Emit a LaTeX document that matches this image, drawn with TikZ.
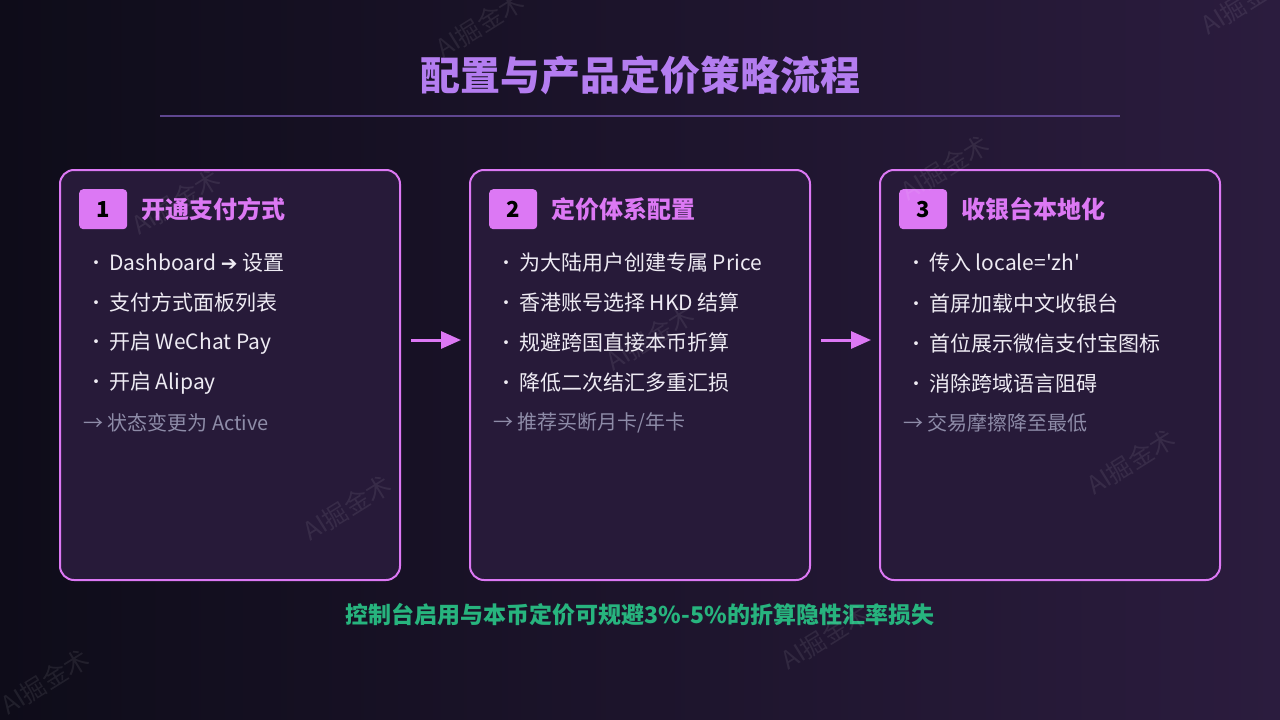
\documentclass[tikz,border=0pt]{standalone}
\usepackage{fontspec}
\setmainfont{Noto Sans CJK SC}[Ligatures=TeXOff]
\newfontfamily\symfont{DejaVu Sans}
\usetikzlibrary{arrows.meta,positioning}

\definecolor{bgleft}{HTML}{0E0C19}
\definecolor{bgright}{HTML}{2B1C3E}
\definecolor{cardfill}{HTML}{271A39}
\definecolor{accent}{HTML}{DC78F4}
\definecolor{titlecol}{HTML}{B47DF0}
\definecolor{rulecol}{HTML}{5F4690}
\definecolor{itemcol}{HTML}{EEEBF3}
\definecolor{notecol}{HTML}{8E8CA8}
\definecolor{keycol}{HTML}{27B47E}

\newcommand{\px}[1]{\fontsize{#1}{#1}\selectfont}
\newcommand{\dotitem}{\makebox[22pt][l]{\raisebox{1pt}{\px{18}•}}}

\begin{document}
\begin{tikzpicture}[
    x=1pt, y=-1pt,
    card/.style={draw=accent, line width=2pt, rounded corners=14pt, fill=cardfill, minimum width=340pt, minimum height=410pt, inner sep=0pt},
    badge/.style={fill=accent, rounded corners=4pt, minimum width=48pt, minimum height=40pt, inner sep=0pt, text=black, font=\px{22}\bfseries},
    head/.style={anchor=west, inner sep=0pt, text=accent, font=\px{24}\bfseries},
    item/.style={anchor=west, inner sep=0pt, text=itemcol, font=\px{21}},
    note/.style={anchor=west, inner sep=0pt, text=notecol, font=\px{20}},
    flow/.style={-{Triangle[length=20pt, width=17pt]}, draw=accent, line width=3pt, shorten <=10pt, shorten >=8pt},
    wmark/.style={text=white, opacity=0.08, rotate=32, font=\px{25}}
]
\useasboundingbox (0,0) rectangle (1280,720);
\shade[left color=bgleft, right color=bgright] (0,0) rectangle (1280,720);

% title
\node[text=titlecol, font=\px{40}\bfseries] (title) at (640,75) {配置与产品定价策略流程};
\coordinate (ruleL) at (160,116);
\coordinate (ruleR) at (1120,116);
\draw[rulecol, line width=2pt] (ruleL) -- (ruleR);

% cards
\node[card] (b1) at (230,375) {};
\node[card] (b2) at (640,375) {};
\node[card] (b3) at (1050,375) {};

% step 1
\node[badge, below right=20pt and 20pt of b1.north west] (n1) {1};
\node[head, right=14pt of n1] (h1) {开通支付方式};
\node[item] (i11) at ([shift={(28,94)}]b1.north west) {\dotitem Dashboard {\symfont\px{20}➔} 设置};
\node[item] (i12) at ([shift={(28,134)}]b1.north west) {\dotitem 支付方式面板列表};
\node[item] (i13) at ([shift={(28,174)}]b1.north west) {\dotitem 开启 WeChat Pay};
\node[item] (i14) at ([shift={(28,214)}]b1.north west) {\dotitem 开启 Alipay};
\node[note] (o1) at ([shift={(24,254)}]b1.north west) {→ 状态变更为 Active};

% step 2
\node[badge, below right=20pt and 20pt of b2.north west] (n2) {2};
\node[head, right=14pt of n2] (h2) {定价体系配置};
\node[item] (i21) at ([shift={(28,94)}]b2.north west) {\dotitem 为大陆用户创建专属 Price};
\node[item] (i22) at ([shift={(28,134)}]b2.north west) {\dotitem 香港账号选择 HKD 结算};
\node[item] (i23) at ([shift={(28,174)}]b2.north west) {\dotitem 规避跨国直接本币折算};
\node[item] (i24) at ([shift={(28,214)}]b2.north west) {\dotitem 降低二次结汇多重汇损};
\node[note] (o2) at ([shift={(24,254)}]b2.north west) {→ 推荐买断月卡/年卡};

% step 3
\node[badge, below right=20pt and 20pt of b3.north west] (n3) {3};
\node[head, right=14pt of n3] (h3) {收银台本地化};
\node[item] (i31) at ([shift={(28,94)}]b3.north west) {\dotitem 传入 locale='zh'};
\node[item] (i32) at ([shift={(28,134)}]b3.north west) {\dotitem 首屏加载中文收银台};
\node[item] (i33) at ([shift={(28,174)}]b3.north west) {\dotitem 首位展示微信支付宝图标};
\node[item] (i34) at ([shift={(28,214)}]b3.north west) {\dotitem 消除跨域语言阻碍};
\node[note] (o3) at ([shift={(24,254)}]b3.north west) {→ 交易摩擦降至最低};

% flow arrows
\draw[flow] ([yshift=35pt]b1.east) -- ([yshift=35pt]b2.west);
\draw[flow] ([yshift=35pt]b2.east) -- ([yshift=35pt]b3.west);

% key message
\node[text=keycol, font=\px{23}\bfseries] (key) at (640,615) {控制台启用与本币定价可规避3\%-5\%的折算隐性汇率损失};

% watermarks
\node[wmark] (w1) at (480,25) {AI掘金术};
\node[wmark] (w2) at (1245,2) {AI掘金术};
\node[wmark] (w3) at (176,202) {AI掘金术};
\node[wmark] (w4) at (945,168) {AI掘金术};
\node[wmark] (w5) at (650,338) {AI掘金术};
\node[wmark] (w6) at (347,508) {AI掘金术};
\node[wmark] (w7) at (1131,462) {AI掘金术};
\node[wmark] (w8) at (825,637) {AI掘金术};
\node[wmark] (w9) at (45,682) {AI掘金术};
\end{tikzpicture}
\end{document}
